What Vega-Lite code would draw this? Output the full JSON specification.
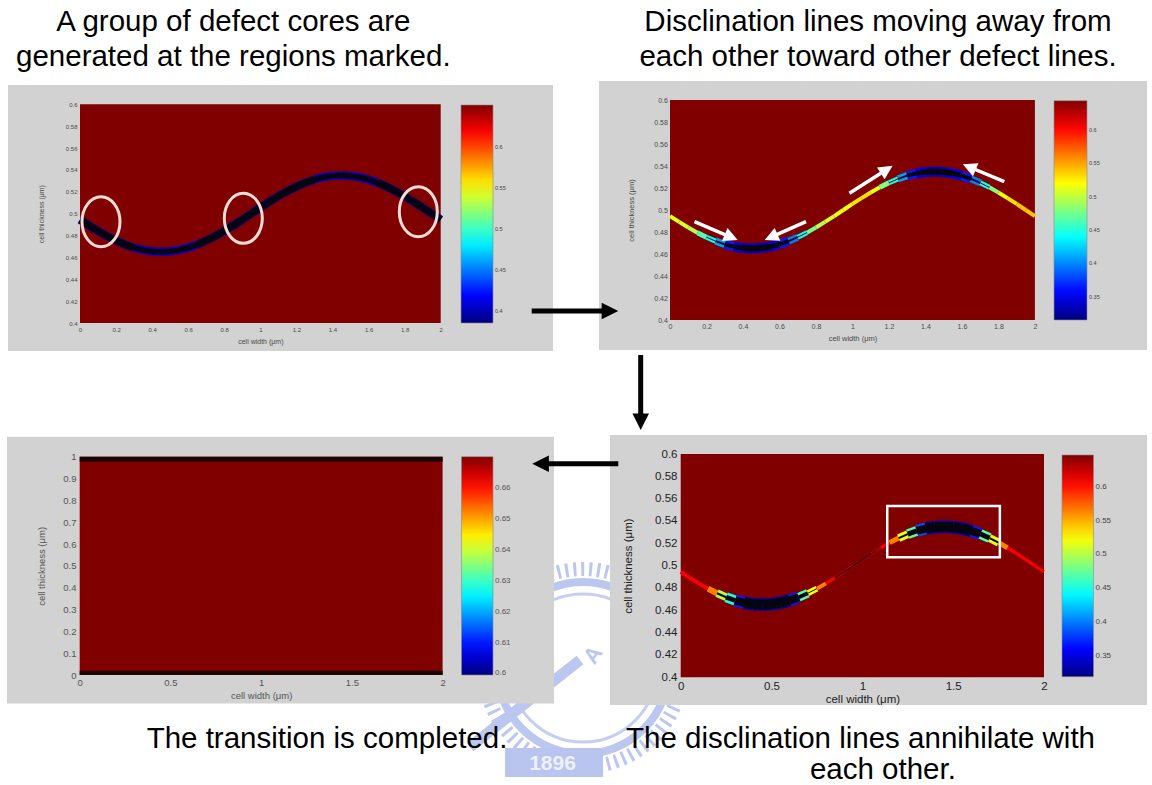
{
  "$schema": "https://vega.github.io/schema/vega-lite/v6.json",
  "description": "Disclination lines in a liquid-crystal cell: four director-field snapshots (cell width vs cell thickness) with jet colour bars, linked by arrows.",
  "width": 1152,
  "height": 785,
  "autosize": "none",
  "padding": 0,
  "background": "#ffffff",
  "config": {
    "view": {"stroke": null},
    "font": "Liberation Sans",
    "axis": {"grid": false, "domain": false, "ticks": false, "labelFont": "Liberation Sans", "titleFont": "Liberation Sans", "titleFontWeight": "normal", "labelOverlap": false, "labelBound": false, "labelFlush": false},
    "legend": {"padding": 0, "offset": 0, "orient": "none", "direction": "vertical", "labelFont": "Liberation Sans", "gradientStrokeColor": "#8a8a8a", "gradientStrokeWidth": 0.6, "labelColor": "#444444", "labelOffset": 1.5, "labelOverlap": false}
  },
  "datasets": {
    "curve": [
      {"x": 0, "y": 0.4945, "tl_n": 0.386, "tl_w": 0.0075, "tl_c": 0.0058, "tr_n": 0.5122, "tr_w": 0.0036, "tr_c": 0, "br_n": 0.6075, "br_w": 0.0036, "br_c": 0},
      {"x": 0.05, "y": 0.4892, "tl_n": 0.386, "tl_w": 0.0075, "tl_c": 0.0058, "tr_n": 0.5056, "tr_w": 0.0036, "tr_c": 0, "br_n": 0.6075, "br_w": 0.0036, "br_c": 0},
      {"x": 0.1, "y": 0.4841, "tl_n": 0.386, "tl_w": 0.0075, "tl_c": 0.0058, "tr_n": 0.4958, "tr_w": 0.0036, "tr_c": 0, "br_n": 0.6075, "br_w": 0.0036, "br_c": 0},
      {"x": 0.15, "y": 0.4794, "tl_n": 0.386, "tl_w": 0.0075, "tl_c": 0.0058, "tr_n": 0.4629, "tr_w": 0.0045, "tr_c": 0, "br_n": 0.565, "br_w": 0.0054, "br_c": 0},
      {"x": 0.2, "y": 0.4753, "tl_n": 0.386, "tl_w": 0.0075, "tl_c": 0.0058, "tr_n": 0.4399, "tr_w": 0.0045, "tr_c": 0.0009, "br_n": 0.4995, "br_w": 0.0072, "br_c": 0.0018},
      {"x": 0.25, "y": 0.4717, "tl_n": 0.386, "tl_w": 0.0075, "tl_c": 0.0058, "tr_n": 0.407, "tr_w": 0.0064, "tr_c": 0.0018, "br_n": 0.4504, "br_w": 0.009, "br_c": 0.0045},
      {"x": 0.3, "y": 0.4688, "tl_n": 0.405, "tl_w": 0.0076, "tl_c": 0.0048, "tr_n": 0.3643, "tr_w": 0.0082, "tr_c": 0.0036, "br_n": 0.3686, "br_w": 0.0107, "br_c": 0.0072},
      {"x": 0.35, "y": 0.4667, "tl_n": 0.405, "tl_w": 0.0076, "tl_c": 0.0048, "tr_n": 0.3479, "tr_w": 0.0091, "tr_c": 0.0045, "br_n": 0.3359, "br_w": 0.0116, "br_c": 0.009},
      {"x": 0.4, "y": 0.4654, "tl_n": 0.405, "tl_w": 0.0076, "tl_c": 0.0048, "tr_n": 0.3413, "tr_w": 0.0091, "tr_c": 0.0055, "br_n": 0.3359, "br_w": 0.0116, "br_c": 0.009},
      {"x": 0.45, "y": 0.465, "tl_n": 0.405, "tl_w": 0.0076, "tl_c": 0.0048, "tr_n": 0.3413, "tr_w": 0.0091, "tr_c": 0.0055, "br_n": 0.3359, "br_w": 0.0116, "br_c": 0.009},
      {"x": 0.5, "y": 0.4654, "tl_n": 0.405, "tl_w": 0.0076, "tl_c": 0.0048, "tr_n": 0.3413, "tr_w": 0.0091, "tr_c": 0.0055, "br_n": 0.3359, "br_w": 0.0116, "br_c": 0.009},
      {"x": 0.55, "y": 0.4667, "tl_n": 0.405, "tl_w": 0.0076, "tl_c": 0.0048, "tr_n": 0.3479, "tr_w": 0.0091, "tr_c": 0.0045, "br_n": 0.3359, "br_w": 0.0116, "br_c": 0.009},
      {"x": 0.6, "y": 0.4688, "tl_n": 0.405, "tl_w": 0.0076, "tl_c": 0.0048, "tr_n": 0.3643, "tr_w": 0.0082, "tr_c": 0.0036, "br_n": 0.3686, "br_w": 0.0107, "br_c": 0.0072},
      {"x": 0.65, "y": 0.4717, "tl_n": 0.386, "tl_w": 0.0075, "tl_c": 0.0058, "tr_n": 0.3972, "tr_w": 0.0064, "tr_c": 0.0018, "br_n": 0.4668, "br_w": 0.0081, "br_c": 0.0036},
      {"x": 0.7, "y": 0.4753, "tl_n": 0.386, "tl_w": 0.0075, "tl_c": 0.0058, "tr_n": 0.4399, "tr_w": 0.0045, "tr_c": 0.0009, "br_n": 0.5224, "br_w": 0.0054, "br_c": 0.0009},
      {"x": 0.75, "y": 0.4794, "tl_n": 0.386, "tl_w": 0.0075, "tl_c": 0.0058, "tr_n": 0.4728, "tr_w": 0.0036, "tr_c": 0, "br_n": 0.565, "br_w": 0.0036, "br_c": 0},
      {"x": 0.8, "y": 0.4841, "tl_n": 0.386, "tl_w": 0.0075, "tl_c": 0.0058, "tr_n": 0.4958, "tr_w": 0.0036, "tr_c": 0, "br_n": 0.6075, "br_w": 0.0027, "br_c": 0},
      {"x": 0.85, "y": 0.4892, "tl_n": 0.386, "tl_w": 0.0075, "tl_c": 0.0058, "tr_n": 0.5056, "tr_w": 0.0036, "tr_c": 0, "br_n": 0.6075, "br_w": 0.0022, "br_c": 0.0011},
      {"x": 0.9, "y": 0.4945, "tl_n": 0.386, "tl_w": 0.0075, "tl_c": 0.0058, "tr_n": 0.5122, "tr_w": 0.0036, "tr_c": 0, "br_n": 0.6075, "br_w": 0.0018, "br_c": 0.0011},
      {"x": 0.95, "y": 0.5, "tl_n": 0.386, "tl_w": 0.0075, "tl_c": 0.0058, "tr_n": 0.5188, "tr_w": 0.0036, "tr_c": 0, "br_n": 0.6075, "br_w": 0.0015, "br_c": 0.0011},
      {"x": 1, "y": 0.5055, "tl_n": 0.386, "tl_w": 0.0075, "tl_c": 0.0058, "tr_n": 0.5287, "tr_w": 0.0036, "tr_c": 0, "br_n": 0.6075, "br_w": 0.0015, "br_c": 0.0011},
      {"x": 1.05, "y": 0.5108, "tl_n": 0.386, "tl_w": 0.0075, "tl_c": 0.0058, "tr_n": 0.5287, "tr_w": 0.0036, "tr_c": 0, "br_n": 0.6075, "br_w": 0.0018, "br_c": 0.0009},
      {"x": 1.1, "y": 0.5159, "tl_n": 0.386, "tl_w": 0.0075, "tl_c": 0.0058, "tr_n": 0.5122, "tr_w": 0.0036, "tr_c": 0, "br_n": 0.6075, "br_w": 0.0027, "br_c": 0},
      {"x": 1.15, "y": 0.5206, "tl_n": 0.386, "tl_w": 0.0075, "tl_c": 0.0058, "tr_n": 0.4794, "tr_w": 0.0045, "tr_c": 0, "br_n": 0.565, "br_w": 0.0045, "br_c": 0},
      {"x": 1.2, "y": 0.5247, "tl_n": 0.386, "tl_w": 0.0075, "tl_c": 0.0058, "tr_n": 0.4465, "tr_w": 0.0045, "tr_c": 0.0009, "br_n": 0.5159, "br_w": 0.0072, "br_c": 0.0018},
      {"x": 1.25, "y": 0.5283, "tl_n": 0.386, "tl_w": 0.0075, "tl_c": 0.0058, "tr_n": 0.407, "tr_w": 0.0064, "tr_c": 0.0018, "br_n": 0.4668, "br_w": 0.009, "br_c": 0.0045},
      {"x": 1.3, "y": 0.5312, "tl_n": 0.405, "tl_w": 0.0076, "tl_c": 0.0048, "tr_n": 0.3643, "tr_w": 0.0082, "tr_c": 0.0036, "br_n": 0.385, "br_w": 0.0107, "br_c": 0.0072},
      {"x": 1.35, "y": 0.5333, "tl_n": 0.405, "tl_w": 0.0076, "tl_c": 0.0048, "tr_n": 0.3479, "tr_w": 0.0091, "tr_c": 0.0045, "br_n": 0.3359, "br_w": 0.0116, "br_c": 0.009},
      {"x": 1.4, "y": 0.5346, "tl_n": 0.405, "tl_w": 0.0076, "tl_c": 0.0048, "tr_n": 0.3413, "tr_w": 0.0091, "tr_c": 0.0055, "br_n": 0.3359, "br_w": 0.0116, "br_c": 0.009},
      {"x": 1.45, "y": 0.535, "tl_n": 0.405, "tl_w": 0.0076, "tl_c": 0.0048, "tr_n": 0.3413, "tr_w": 0.0091, "tr_c": 0.0055, "br_n": 0.3359, "br_w": 0.0116, "br_c": 0.009},
      {"x": 1.5, "y": 0.5346, "tl_n": 0.405, "tl_w": 0.0076, "tl_c": 0.0048, "tr_n": 0.3413, "tr_w": 0.0091, "tr_c": 0.0055, "br_n": 0.3359, "br_w": 0.0116, "br_c": 0.009},
      {"x": 1.55, "y": 0.5333, "tl_n": 0.405, "tl_w": 0.0076, "tl_c": 0.0048, "tr_n": 0.3479, "tr_w": 0.0091, "tr_c": 0.0045, "br_n": 0.3359, "br_w": 0.0116, "br_c": 0.009},
      {"x": 1.6, "y": 0.5312, "tl_n": 0.405, "tl_w": 0.0076, "tl_c": 0.0048, "tr_n": 0.3643, "tr_w": 0.0082, "tr_c": 0.0036, "br_n": 0.3686, "br_w": 0.0107, "br_c": 0.0072},
      {"x": 1.65, "y": 0.5283, "tl_n": 0.386, "tl_w": 0.0075, "tl_c": 0.0058, "tr_n": 0.3972, "tr_w": 0.0064, "tr_c": 0.0018, "br_n": 0.4668, "br_w": 0.009, "br_c": 0.0045},
      {"x": 1.7, "y": 0.5247, "tl_n": 0.386, "tl_w": 0.0075, "tl_c": 0.0058, "tr_n": 0.4399, "tr_w": 0.0045, "tr_c": 0.0009, "br_n": 0.5159, "br_w": 0.0072, "br_c": 0.0018},
      {"x": 1.75, "y": 0.5206, "tl_n": 0.386, "tl_w": 0.0075, "tl_c": 0.0058, "tr_n": 0.4794, "tr_w": 0.0036, "tr_c": 0, "br_n": 0.565, "br_w": 0.0045, "br_c": 0},
      {"x": 1.8, "y": 0.5159, "tl_n": 0.386, "tl_w": 0.0075, "tl_c": 0.0058, "tr_n": 0.5122, "tr_w": 0.0036, "tr_c": 0, "br_n": 0.6075, "br_w": 0.0032, "br_c": 0},
      {"x": 1.85, "y": 0.5108, "tl_n": 0.386, "tl_w": 0.0075, "tl_c": 0.0058, "tr_n": 0.5287, "tr_w": 0.0036, "tr_c": 0, "br_n": 0.6075, "br_w": 0.003, "br_c": 0},
      {"x": 1.9, "y": 0.5055, "tl_n": 0.386, "tl_w": 0.0075, "tl_c": 0.0058, "tr_n": 0.5385, "tr_w": 0.0036, "tr_c": 0, "br_n": 0.6075, "br_w": 0.003, "br_c": 0},
      {"x": 1.95, "y": 0.5, "tl_n": 0.386, "tl_w": 0.0075, "tl_c": 0.0058, "tr_n": 0.5385, "tr_w": 0.0036, "tr_c": 0, "br_n": 0.6075, "br_w": 0.0027, "br_c": 0},
      {"x": 2, "y": 0.4945, "tl_n": 0.386, "tl_w": 0.0075, "tl_c": 0.0058, "tr_n": 0.5319, "tr_w": 0.0036, "tr_c": 0, "br_n": 0.6075, "br_w": 0.0027, "br_c": 0}
    ]
  },
  "layer": [
    {
      "description": "University seal watermark behind the figure",
      "layer": [
        {
          "data": {"values": [{}]},
          "mark": {"type": "point", "shape": "circle", "size": 39204, "filled": false, "stroke": "#bcc7ef", "strokeWidth": 14, "strokeDash": [3, 5], "opacity": 1},
          "encoding": {
            "x": {"datum": 0, "type": "quantitative", "scale": {"domain": [-1, 1], "range": [463, 703], "nice": false, "zero": false}, "axis": null},
            "y": {"datum": 0, "type": "quantitative", "scale": {"domain": [-1, 1], "range": [788, 548], "nice": false, "zero": false}, "axis": null}
          }
        },
        {
          "data": {"values": [{}]},
          "mark": {"type": "point", "shape": "circle", "size": 29584, "filled": false, "stroke": "#bcc7ef", "strokeWidth": 8, "opacity": 1},
          "encoding": {
            "x": {"datum": 0, "type": "quantitative", "axis": null},
            "y": {"datum": 0, "type": "quantitative", "axis": null}
          }
        },
        {
          "data": {"values": [{}]},
          "mark": {"type": "point", "shape": "circle", "size": 21904, "filled": false, "stroke": "#c6cff2", "strokeWidth": 3, "opacity": 1},
          "encoding": {
            "x": {"datum": 0, "type": "quantitative", "axis": null},
            "y": {"datum": 0, "type": "quantitative", "axis": null}
          }
        },
        {
          "data": {"values": [{}]},
          "mark": {"type": "rule", "color": "#bcc7ef", "strokeWidth": 11},
          "encoding": {
            "x": {"datum": -0.942, "type": "quantitative", "axis": null},
            "x2": {"datum": -0.025},
            "y": {"datum": -0.658, "type": "quantitative", "axis": null},
            "y2": {"datum": 0.0667}
          }
        },
        {
          "data": {"values": [{}]},
          "mark": {"type": "text", "text": "A", "font": "Liberation Sans", "fontWeight": "bold", "fontSize": 22, "angle": -55, "fill": "#bcc7ef", "align": "center", "baseline": "middle"},
          "encoding": {
            "x": {"datum": 0.083, "type": "quantitative", "axis": null},
            "y": {"datum": 0.108, "type": "quantitative", "axis": null}
          }
        },
        {
          "data": {"values": [{}]},
          "mark": {"type": "rect", "fill": "#b9c5ef"},
          "encoding": {
            "x": {"datum": -0.65, "type": "quantitative", "axis": null},
            "x2": {"datum": 0.1667},
            "y": {"datum": -0.6667, "type": "quantitative", "axis": null},
            "y2": {"datum": -0.9083}
          }
        },
        {
          "data": {"values": [{}]},
          "mark": {"type": "text", "text": "1896", "font": "Liberation Sans", "fontWeight": "bold", "fontSize": 21, "fill": "#eef1fb", "align": "center", "baseline": "middle"},
          "encoding": {
            "x": {"datum": -0.254, "type": "quantitative", "axis": null},
            "y": {"datum": -0.8, "type": "quantitative", "axis": null}
          }
        }
      ]
    },
    {
      "description": "Snapshot 1: defect cores nucleate along the distorted layer",
      "resolve": {"scale": {"stroke": "independent"}, "legend": {"stroke": "independent"}},
      "layer": [
        {
          "data": {"values": [{}]},
          "mark": {"type": "rect", "fill": "#d2d2d2"},
          "encoding": {
            "x": {"datum": -0.3992, "type": "quantitative",
              "scale": {"domain": [0, 2], "range": [80, 440.7], "nice": false, "zero": false},
              "axis": {"zindex": 1, "orient": "bottom", "offset": -462, "values": [0, 0.2, 0.4, 0.6, 0.8, 1, 1.2, 1.4, 1.6, 1.8, 2], "format": "~g", "labelFontSize": 6, "labelColor": "#4a4a4a", "labelPadding": 3, "title": "cell width (μm)", "titleFontSize": 7, "titleColor": "#4a4a4a", "titleY": 18.7, "titleBaseline": "middle"}},
            "x2": {"datum": 2.6227},
            "y": {"datum": 0.6176, "type": "quantitative",
              "scale": {"domain": [0.4, 0.6], "range": [323, 104.3], "nice": false, "zero": false},
              "axis": {"zindex": 1, "orient": "left", "offset": -80, "values": [0.4, 0.42, 0.44, 0.46, 0.48, 0.5, 0.52, 0.54, 0.56, 0.58, 0.6], "format": "~g", "labelFontSize": 6, "labelColor": "#4a4a4a", "labelPadding": 3, "title": "cell thickness (μm)", "titleFontSize": 7, "titleColor": "#4a4a4a", "titleX": -38.3, "titleBaseline": "middle"}},
            "y2": {"datum": 0.3744}
          }
        },
        {
          "data": {"values": [{"x0": 0, "x1": 2, "y0": 0.4, "y1": 0.6, "n": 0.6505}]},
          "mark": {"type": "rect"},
          "encoding": {
            "x": {"field": "x0", "type": "quantitative"},
            "x2": {"field": "x1"},
            "y": {"field": "y0", "type": "quantitative"},
            "y2": {"field": "y1"},
            "color": {"field": "n", "type": "quantitative",
              "scale": {"domain": [0.386, 0.4191, 0.4852, 0.5513, 0.6174, 0.6505], "range": ["#000080", "#0000ff", "#00ffff", "#ffff00", "#ff0000", "#800000"], "interpolate": "rgb"},
              "legend": {"type": "gradient", "legendX": 461, "legendY": 105, "gradientLength": 218, "gradientThickness": 32, "title": null, "values": [0.4, 0.45, 0.5, 0.55, 0.6], "format": ".2~f", "labelFontSize": 5.5}}
          }
        },
        {
          "data": {"name": "curve"},
          "transform": [
            {"window": [{"op": "lead", "field": "x", "as": "x_next"}, {"op": "lead", "field": "y", "as": "y_next"}], "sort": [{"field": "x", "order": "ascending"}]},
            {"filter": "datum.x_next != null"}
          ],
          "layer": [
            {
              "mark": {"type": "rule", "strokeCap": "butt"},
              "encoding": {
                "x": {"field": "x", "type": "quantitative"},
                "x2": {"field": "x_next"},
                "y": {"field": "y", "type": "quantitative"},
                "y2": {"field": "y_next"},
                "stroke": {"field": "tl_n", "type": "quantitative", "scale": {"domain": [0.386, 0.4191, 0.4852, 0.5513, 0.6174, 0.6505], "range": ["#000080", "#0000ff", "#00ffff", "#ffff00", "#ff0000", "#800000"], "interpolate": "rgb"}, "legend": null},
                "strokeWidth": {"field": "tl_w", "type": "quantitative", "scale": {"domain": [0, 0.01], "range": [0, 11], "zero": true}, "legend": null}
              }
            },
            {
              "mark": {"type": "rule", "strokeCap": "butt", "color": "#05050d"},
              "encoding": {
                "x": {"field": "x", "type": "quantitative"},
                "x2": {"field": "x_next"},
                "y": {"field": "y", "type": "quantitative"},
                "y2": {"field": "y_next"},
                "strokeWidth": {"field": "tl_c", "type": "quantitative", "scale": {"domain": [0, 0.01], "range": [0, 11], "zero": true}, "legend": null}
              }
            }
          ]
        },
        {
          "data": {"values": [{"x": 0.1164, "y": 0.4926}, {"x": 0.9055, "y": 0.4957}, {"x": 1.8758, "y": 0.5018}]},
          "mark": {"type": "point", "shape": "M-0.76,0A0.76,1,0,1,0,0.76,0A0.76,1,0,1,0,-0.76,0Z", "size": 2500, "filled": false, "stroke": "#f3dcd6", "strokeWidth": 3, "opacity": 1},
          "encoding": {
            "x": {"field": "x", "type": "quantitative"},
            "y": {"field": "y", "type": "quantitative"}
          }
        },
        {
          "data": {"values": [{}]},
          "mark": {"type": "text", "text": ["A group of defect cores are", "generated at the regions marked."], "font": "Liberation Sans", "fontSize": 29.5, "lineHeight": 35, "align": "center", "baseline": "alphabetic", "color": "#000000"},
          "encoding": {
            "x": {"datum": 0.85, "type": "quantitative"},
            "y": {"datum": 0.667, "type": "quantitative"}
          }
        }
      ]
    },
    {
      "description": "Snapshot 2: disclination lines travel along the layer",
      "resolve": {"scale": {"stroke": "independent"}, "legend": {"stroke": "independent"}},
      "layer": [
        {
          "data": {"values": [{}]},
          "mark": {"type": "rect", "fill": "#d2d2d2"},
          "encoding": {
            "x": {"datum": -0.3891, "type": "quantitative",
              "scale": {"domain": [0, 2], "range": [670, 1034.9], "nice": false, "zero": false},
              "axis": {"zindex": 1, "orient": "bottom", "offset": -465, "values": [0, 0.2, 0.4, 0.6, 0.8, 1, 1.2, 1.4, 1.6, 1.8, 2], "format": "~g", "labelFontSize": 7, "labelColor": "#4a4a4a", "labelPadding": 2, "title": "cell width (μm)", "titleFontSize": 7.5, "titleColor": "#4a4a4a", "titleY": 18.3, "titleBaseline": "middle"}},
            "x2": {"datum": 2.6144},
            "y": {"datum": 0.6173, "type": "quantitative",
              "scale": {"domain": [0.4, 0.6], "range": [320, 100], "nice": false, "zero": false},
              "axis": {"zindex": 1, "orient": "left", "offset": -670, "values": [0.4, 0.42, 0.44, 0.46, 0.48, 0.5, 0.52, 0.54, 0.56, 0.58, 0.6], "format": "~g", "labelFontSize": 7, "labelColor": "#4a4a4a", "labelPadding": 2.6, "title": "cell thickness (μm)", "titleFontSize": 7.5, "titleColor": "#4a4a4a", "titleX": -38.6, "titleBaseline": "middle"}},
            "y2": {"datum": 0.3727}
          }
        },
        {
          "data": {"values": [{"x0": 0, "x1": 2, "y0": 0.4, "y1": 0.6, "n": 0.6437}]},
          "mark": {"type": "rect"},
          "encoding": {
            "x": {"field": "x0", "type": "quantitative"},
            "x2": {"field": "x1"},
            "y": {"field": "y0", "type": "quantitative"},
            "y2": {"field": "y1"},
            "color": {"field": "n", "type": "quantitative",
              "scale": {"domain": [0.315, 0.3561, 0.4383, 0.5204, 0.6026, 0.6437], "range": ["#000080", "#0000ff", "#00ffff", "#ffff00", "#ff0000", "#800000"], "interpolate": "rgb"},
              "legend": {"type": "gradient", "legendX": 1054, "legendY": 100.7, "gradientLength": 219.3, "gradientThickness": 33, "title": null, "values": [0.35, 0.4, 0.45, 0.5, 0.55, 0.6], "format": ".2~f", "labelFontSize": 5.5}}
          }
        },
        {
          "data": {"name": "curve"},
          "transform": [
            {"window": [{"op": "lead", "field": "x", "as": "x_next"}, {"op": "lead", "field": "y", "as": "y_next"}], "sort": [{"field": "x", "order": "ascending"}]},
            {"filter": "datum.x_next != null"}
          ],
          "layer": [
            {
              "mark": {"type": "rule", "strokeCap": "butt"},
              "encoding": {
                "x": {"field": "x", "type": "quantitative"},
                "x2": {"field": "x_next"},
                "y": {"field": "y", "type": "quantitative"},
                "y2": {"field": "y_next"},
                "stroke": {"field": "tr_n", "type": "quantitative", "scale": {"domain": [0.315, 0.3561, 0.4383, 0.5204, 0.6026, 0.6437], "range": ["#000080", "#0000ff", "#00ffff", "#ffff00", "#ff0000", "#800000"], "interpolate": "rgb"}, "legend": null},
                "strokeWidth": {"field": "tr_w", "type": "quantitative", "scale": {"domain": [0, 0.01], "range": [0, 11], "zero": true}, "legend": null}
              }
            },
            {
              "mark": {"type": "rule", "strokeCap": "butt", "color": "#05050d"},
              "encoding": {
                "x": {"field": "x", "type": "quantitative"},
                "x2": {"field": "x_next"},
                "y": {"field": "y", "type": "quantitative"},
                "y2": {"field": "y_next"},
                "strokeWidth": {"field": "tr_c", "type": "quantitative", "scale": {"domain": [0, 0.01], "range": [0, 11], "zero": true}, "legend": null}
              }
            }
          ]
        },
        {
          "data": {"values": [
            {"x": 0.1343, "y": 0.4894, "hx": 0.3357, "hy": 0.4752, "heading": 113},
            {"x": 0.7454, "y": 0.4894, "hx": 0.5541, "hy": 0.4753, "heading": 246},
            {"x": 0.9833, "y": 0.5152, "hx": 1.1877, "hy": 0.5368, "heading": 57},
            {"x": 1.8323, "y": 0.5257, "hx": 1.6402, "hy": 0.5391, "heading": 293}
          ]},
          "layer": [
            {
              "mark": {"type": "rule", "color": "#ffffff", "strokeWidth": 3.5},
              "encoding": {
                "x": {"field": "x", "type": "quantitative"},
                "x2": {"field": "hx"},
                "y": {"field": "y", "type": "quantitative"},
                "y2": {"field": "hy"}
              }
            },
            {
              "mark": {"type": "point", "shape": "M0,-1L1,1L-1,1Z", "size": 196, "filled": true, "fill": "#ffffff", "strokeWidth": 0, "opacity": 1},
              "encoding": {
                "x": {"field": "hx", "type": "quantitative"},
                "y": {"field": "hy", "type": "quantitative"},
                "angle": {"field": "heading", "type": "quantitative", "scale": {"domain": [0, 360], "range": [0, 360]}, "legend": null}
              }
            }
          ]
        },
        {
          "data": {"values": [{}]},
          "mark": {"type": "text", "text": ["Disclination lines moving away from", "each other toward other defect lines."], "font": "Liberation Sans", "fontSize": 29.5, "lineHeight": 35, "align": "center", "baseline": "alphabetic", "color": "#000000"},
          "encoding": {
            "x": {"datum": 1.14, "type": "quantitative"},
            "y": {"datum": 0.6627, "type": "quantitative"}
          }
        },
        {
          "data": {"values": [{}]},
          "mark": {"type": "rule", "color": "#000000", "strokeWidth": 5},
          "encoding": {
            "x": {"datum": -0.758, "type": "quantitative"},
            "x2": {"datum": -0.3289},
            "y": {"datum": 0.4082, "type": "quantitative"}
          }
        },
        {
          "data": {"values": [{}]},
          "mark": {"type": "point", "shape": "M0,-1L1,1L-1,1Z", "size": 275, "angle": 90, "filled": true, "fill": "#000000", "strokeWidth": 0, "opacity": 1},
          "encoding": {
            "x": {"datum": -0.3289, "type": "quantitative"},
            "y": {"datum": 0.4082, "type": "quantitative"}
          }
        },
        {
          "data": {"values": [{}]},
          "mark": {"type": "rule", "color": "#000000", "strokeWidth": 5},
          "encoding": {
            "x": {"datum": -0.1606, "type": "quantitative"},
            "y": {"datum": 0.3682, "type": "quantitative"},
            "y2": {"datum": 0.3075}
          }
        },
        {
          "data": {"values": [{}]},
          "mark": {"type": "point", "shape": "M0,-1L1,1L-1,1Z", "size": 275, "angle": 180, "filled": true, "fill": "#000000", "strokeWidth": 0, "opacity": 1},
          "encoding": {
            "x": {"datum": -0.1606, "type": "quantitative"},
            "y": {"datum": 0.3075, "type": "quantitative"}
          }
        }
      ]
    },
    {
      "description": "Snapshot 4: uniform state after the transition",
      "layer": [
        {
          "data": {"values": [{}]},
          "mark": {"type": "rect", "fill": "#d2d2d2"},
          "encoding": {
            "x": {"datum": -0.4007, "type": "quantitative",
              "scale": {"domain": [0, 2], "range": [79.7, 442.6], "nice": false, "zero": false},
              "axis": {"zindex": 1, "orient": "bottom", "offset": -110, "values": [0, 0.5, 1, 1.5, 2], "format": "~g", "labelFontSize": 9.5, "labelColor": "#555555", "labelPadding": 2.3, "title": "cell width (μm)", "titleFontSize": 9.5, "titleColor": "#555555", "titleY": 20, "titleBaseline": "middle"}},
            "x2": {"datum": 2.6139},
            "y": {"datum": 1.0916, "type": "quantitative",
              "scale": {"domain": [0, 1], "range": [675, 456.7], "nice": false, "zero": false},
              "axis": {"zindex": 1, "orient": "left", "offset": -79.7, "values": [0, 0.1, 0.2, 0.3, 0.4, 0.5, 0.6, 0.7, 0.8, 0.9, 1], "format": "~g", "labelFontSize": 9.5, "labelColor": "#555555", "labelPadding": 3.7, "title": "cell thickness (μm)", "titleFontSize": 9.5, "titleColor": "#555555", "titleX": -38.4, "titleBaseline": "middle"}},
            "y2": {"datum": -0.1306}
          }
        },
        {
          "data": {"values": [{"x0": 0, "x1": 2, "y0": 0, "y1": 1, "n": 0.6703}]},
          "mark": {"type": "rect"},
          "encoding": {
            "x": {"field": "x0", "type": "quantitative"},
            "x2": {"field": "x1"},
            "y": {"field": "y0", "type": "quantitative"},
            "y2": {"field": "y1"},
            "color": {"field": "n", "type": "quantitative",
              "scale": {"domain": [0.5995, 0.60835, 0.62605, 0.64375, 0.66145, 0.6703], "range": ["#000080", "#0000ff", "#00ffff", "#ffff00", "#ff0000", "#800000"], "interpolate": "rgb"},
              "legend": {"type": "gradient", "legendX": 461.5, "legendY": 456.7, "gradientLength": 218.3, "gradientThickness": 31.5, "title": null, "values": [0.6, 0.61, 0.62, 0.63, 0.64, 0.65, 0.66], "format": ".2~f", "labelFontSize": 8, "labelColor": "#555555"}}
          }
        },
        {
          "data": {"values": [{"x0": 0, "x1": 2, "y0": 0.977, "y1": 1}, {"x0": 0, "x1": 2, "y0": 0, "y1": 0.02}]},
          "mark": {"type": "rect", "fill": "#1e0303"},
          "encoding": {
            "x": {"field": "x0", "type": "quantitative"},
            "x2": {"field": "x1"},
            "y": {"field": "y0", "type": "quantitative"},
            "y2": {"field": "y1"}
          }
        },
        {
          "data": {"values": [{}]},
          "mark": {"type": "text", "text": "The transition is completed.", "font": "Liberation Sans", "fontSize": 29.5, "align": "center", "baseline": "alphabetic", "color": "#000000"},
          "encoding": {
            "x": {"datum": 1.3629, "type": "quantitative"},
            "y": {"datum": -0.3344, "type": "quantitative"}
          }
        }
      ]
    },
    {
      "description": "Snapshot 3: disclination lines annihilate pairwise",
      "resolve": {"scale": {"stroke": "independent"}, "legend": {"stroke": "independent"}},
      "layer": [
        {
          "data": {"values": [{}]},
          "mark": {"type": "rect", "fill": "#d2d2d2"},
          "encoding": {
            "x": {"datum": -0.3892, "type": "quantitative",
              "scale": {"domain": [0, 2], "range": [680.7, 1044], "nice": false, "zero": false},
              "axis": {"zindex": 1, "orient": "bottom", "offset": -107.7, "values": [0, 0.5, 1, 1.5, 2], "format": "~g", "labelFontSize": 11.5, "labelColor": "#222222", "labelPadding": 2.7, "title": "cell width (μm)", "titleFontSize": 11.5, "titleColor": "#222222", "titleY": 22, "titleBaseline": "middle"}},
            "x2": {"datum": 2.567},
            "y": {"datum": 0.617, "type": "quantitative",
              "scale": {"domain": [0.4, 0.6], "range": [677.3, 454], "nice": false, "zero": false},
              "axis": {"zindex": 1, "orient": "left", "offset": -680.7, "values": [0.4, 0.42, 0.44, 0.46, 0.48, 0.5, 0.52, 0.54, 0.56, 0.58, 0.6], "format": "~g", "labelFontSize": 11.5, "labelColor": "#222222", "labelPadding": 3.7, "title": "cell thickness (μm)", "titleFontSize": 11.5, "titleColor": "#222222", "titleX": -52.4, "titleBaseline": "middle"}},
            "y2": {"datum": 0.3752}
          }
        },
        {
          "data": {"values": [{"x0": 0, "x1": 2, "y0": 0.4, "y1": 0.6, "n": 0.6468}]},
          "mark": {"type": "rect"},
          "encoding": {
            "x": {"field": "x0", "type": "quantitative"},
            "x2": {"field": "x1"},
            "y": {"field": "y0", "type": "quantitative"},
            "y2": {"field": "y1"},
            "color": {"field": "n", "type": "quantitative",
              "scale": {"domain": [0.3195, 0.3604, 0.4422, 0.5241, 0.6059, 0.6468], "range": ["#000080", "#0000ff", "#00ffff", "#ffff00", "#ff0000", "#800000"], "interpolate": "rgb"},
              "legend": {"type": "gradient", "legendX": 1062, "legendY": 455, "gradientLength": 221.7, "gradientThickness": 31.5, "title": null, "values": [0.35, 0.4, 0.45, 0.5, 0.55, 0.6], "format": ".2~f", "labelFontSize": 8}}
          }
        },
        {
          "data": {"name": "curve"},
          "transform": [
            {"window": [{"op": "lead", "field": "x", "as": "x_next"}, {"op": "lead", "field": "y", "as": "y_next"}], "sort": [{"field": "x", "order": "ascending"}]},
            {"filter": "datum.x_next != null"}
          ],
          "layer": [
            {
              "mark": {"type": "rule", "strokeCap": "butt"},
              "encoding": {
                "x": {"field": "x", "type": "quantitative"},
                "x2": {"field": "x_next"},
                "y": {"field": "y", "type": "quantitative"},
                "y2": {"field": "y_next"},
                "stroke": {"field": "br_n", "type": "quantitative", "scale": {"domain": [0.3195, 0.3604, 0.4422, 0.5241, 0.6059, 0.6468], "range": ["#000080", "#0000ff", "#00ffff", "#ffff00", "#ff0000", "#800000"], "interpolate": "rgb"}, "legend": null},
                "strokeWidth": {"field": "br_w", "type": "quantitative", "scale": {"domain": [0, 0.01], "range": [0, 11], "zero": true}, "legend": null}
              }
            },
            {
              "mark": {"type": "rule", "strokeCap": "butt", "color": "#05050d"},
              "encoding": {
                "x": {"field": "x", "type": "quantitative"},
                "x2": {"field": "x_next"},
                "y": {"field": "y", "type": "quantitative"},
                "y2": {"field": "y_next"},
                "strokeWidth": {"field": "br_c", "type": "quantitative", "scale": {"domain": [0, 0.01], "range": [0, 11], "zero": true}, "legend": null}
              }
            }
          ]
        },
        {
          "data": {"values": [{}]},
          "mark": {"type": "rect", "filled": false, "stroke": "#ffffff", "strokeWidth": 2.5},
          "encoding": {
            "x": {"datum": 1.137, "type": "quantitative"},
            "x2": {"datum": 1.757},
            "y": {"datum": 0.5534, "type": "quantitative"},
            "y2": {"datum": 0.5075}
          }
        },
        {
          "data": {"values": [{}]},
          "mark": {"type": "text", "text": "The disclination lines annihilate with", "font": "Liberation Sans", "fontSize": 29.5, "align": "center", "baseline": "alphabetic", "color": "#000000"},
          "encoding": {
            "x": {"datum": 0.99, "type": "quantitative"},
            "y": {"datum": 0.3367, "type": "quantitative"}
          }
        },
        {
          "data": {"values": [{}]},
          "mark": {"type": "text", "text": "each other.", "font": "Liberation Sans", "fontSize": 29.5, "align": "center", "baseline": "alphabetic", "color": "#000000"},
          "encoding": {
            "x": {"datum": 1.113, "type": "quantitative"},
            "y": {"datum": 0.3089, "type": "quantitative"}
          }
        },
        {
          "data": {"values": [{}]},
          "mark": {"type": "rule", "color": "#000000", "strokeWidth": 5},
          "encoding": {
            "x": {"datum": -0.3435, "type": "quantitative"},
            "x2": {"datum": -0.7713},
            "y": {"datum": 0.5913, "type": "quantitative"}
          }
        },
        {
          "data": {"values": [{}]},
          "mark": {"type": "point", "shape": "M0,-1L1,1L-1,1Z", "size": 275, "angle": 270, "filled": true, "fill": "#000000", "strokeWidth": 0, "opacity": 1},
          "encoding": {
            "x": {"datum": -0.7713, "type": "quantitative"},
            "y": {"datum": 0.5913, "type": "quantitative"}
          }
        }
      ]
    }
  ],
  "resolve": {
    "scale": {"x": "independent", "y": "independent", "color": "independent", "stroke": "independent", "strokeWidth": "independent", "angle": "independent"},
    "axis": {"x": "independent", "y": "independent"},
    "legend": {"color": "independent"}
  }
}
